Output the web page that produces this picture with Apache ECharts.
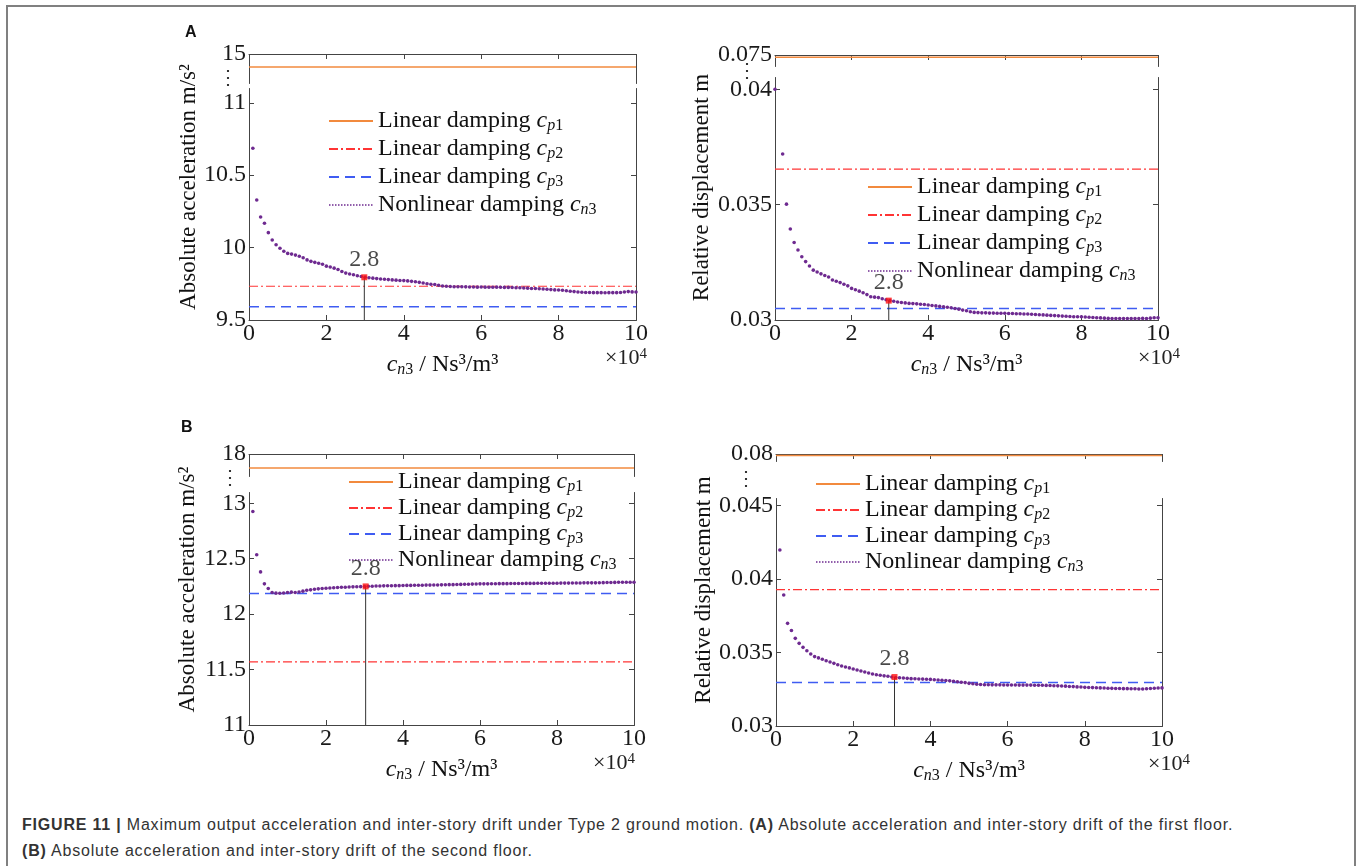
<!DOCTYPE html>
<html><head><meta charset="utf-8">
<script src="https://cdn.jsdelivr.net/npm/echarts@6.0.0/dist/echarts.min.js"></script>
<style>
html,body{margin:0;padding:0;background:#fff;width:1357px;height:866px;overflow:hidden}
#frame{position:absolute;left:6px;top:5px;width:1350px;height:900px;border:2px solid #808080;box-sizing:border-box}
#chart{position:absolute;left:0;top:0;width:1357px;height:800px}
.cap{position:absolute;left:22px;font-family:"Liberation Sans",Arial,sans-serif;font-size:16px;letter-spacing:0.8px;color:#333;white-space:nowrap}
</style></head><body>
<div id="frame"></div>
<div id="chart"></div>
<div class="cap" style="top:816px"><b>FIGURE 11 |</b> Maximum output acceleration and inter-story drift under Type 2 ground motion. <b>(A)</b> Absolute acceleration and inter-story drift of the first floor.</div>
<div class="cap" style="top:842px"><b>(B)</b> Absolute acceleration and inter-story drift of the second floor.</div>
<script>
// ---------- data ----------
const xTicks = [0, 2, 4, 6, 8, 10];
const xTickLabels = ['0', '2', '4', '6', '8', '10'];
const xPts = [0.1,0.2,0.3,0.4,0.5,0.6,0.7,0.8,0.9,1.0,1.1,1.2,1.3,1.4,1.5,1.6,1.7,1.8,1.9,2.0,2.1,2.2,2.3,2.4,2.5,2.6,2.7,2.8,2.9,3.0,3.1,3.2,3.3,3.4,3.5,3.6,3.7,3.8,3.9,4.0,4.1,4.2,4.3,4.4,4.5,4.6,4.7,4.8,4.9,5.0,5.1,5.2,5.3,5.4,5.5,5.6,5.7,5.8,5.9,6.0,6.1,6.2,6.3,6.4,6.5,6.6,6.7,6.8,6.9,7.0,7.1,7.2,7.3,7.4,7.5,7.6,7.7,7.8,7.9,8.0,8.1,8.2,8.3,8.4,8.5,8.6,8.7,8.8,8.9,9.0,9.1,9.2,9.3,9.4,9.5,9.6,9.7,9.8,9.9,10.0];
const xPtsA2 = [0.0,0.2,0.3,0.4,0.5,0.6,0.7,0.8,0.9,1.0,1.1,1.2,1.3,1.4,1.5,1.6,1.7,1.8,1.9,2.0,2.1,2.2,2.3,2.4,2.5,2.6,2.7,2.8,2.9,3.0,3.1,3.2,3.3,3.4,3.5,3.6,3.7,3.8,3.9,4.0,4.1,4.2,4.3,4.4,4.5,4.6,4.7,4.8,4.9,5.0,5.1,5.2,5.3,5.4,5.5,5.6,5.7,5.8,5.9,6.0,6.1,6.2,6.3,6.4,6.5,6.6,6.7,6.8,6.9,7.0,7.1,7.2,7.3,7.4,7.5,7.6,7.7,7.8,7.9,8.0,8.1,8.2,8.3,8.4,8.5,8.6,8.7,8.8,8.9,9.0,9.1,9.2,9.3,9.4,9.5,9.6,9.7,9.8,9.9,10.0];

// Panel A left: absolute acceleration, first floor (m/s^2)
const accA = [10.686,10.329,10.211,10.168,10.103,10.052,10.020,9.995,9.975,9.960,9.955,9.948,9.940,9.930,9.915,9.905,9.898,9.892,9.885,9.872,9.866,9.858,9.849,9.835,9.824,9.818,9.812,9.806,9.800,9.795,9.792,9.789,9.786,9.783,9.781,9.779,9.777,9.775,9.773,9.772,9.770,9.767,9.764,9.760,9.755,9.750,9.747,9.745,9.740,9.735,9.733,9.731,9.730,9.730,9.730,9.729,9.728,9.728,9.727,9.728,9.727,9.726,9.726,9.727,9.726,9.725,9.725,9.724,9.723,9.723,9.721,9.720,9.718,9.717,9.716,9.714,9.712,9.710,9.708,9.707,9.705,9.702,9.699,9.696,9.693,9.692,9.690,9.690,9.689,9.689,9.689,9.688,9.689,9.689,9.689,9.690,9.693,9.696,9.694,9.693];
// Panel A right: relative displacement, first floor (m)
const dispA = [0.04000,0.03719,0.03502,0.03394,0.03336,0.03303,0.03274,0.03253,0.03234,0.03216,0.03208,0.03200,0.03193,0.03186,0.03173,0.03168,0.03162,0.03155,0.03148,0.03137,0.03131,0.03125,0.03118,0.03110,0.03101,0.03099,0.03097,0.03092,0.03088,0.03084,0.03081,0.03078,0.03076,0.03074,0.03072,0.03071,0.03070,0.03068,0.03067,0.03065,0.03063,0.03061,0.03059,0.03057,0.03055,0.03053,0.03050,0.03047,0.03043,0.03040,0.03036,0.03033,0.03032,0.03031,0.03031,0.03030,0.03030,0.03029,0.03029,0.03029,0.03028,0.03028,0.03027,0.03027,0.03026,0.03026,0.03025,0.03024,0.03023,0.03022,0.03021,0.03020,0.03019,0.03018,0.03017,0.03016,0.03015,0.03014,0.03014,0.03014,0.03013,0.03012,0.03011,0.03010,0.03009,0.03008,0.03007,0.03006,0.03006,0.03006,0.03006,0.03006,0.03006,0.03006,0.03006,0.03007,0.03006,0.03008,0.03010,0.03010];
// Panel B left: absolute acceleration, second floor (m/s^2)
const accB = [12.925,12.535,12.381,12.273,12.231,12.195,12.189,12.188,12.191,12.195,12.198,12.195,12.200,12.207,12.215,12.219,12.224,12.228,12.231,12.234,12.236,12.238,12.240,12.242,12.243,12.245,12.246,12.247,12.248,12.249,12.251,12.252,12.253,12.254,12.255,12.256,12.256,12.257,12.257,12.258,12.259,12.259,12.260,12.261,12.261,12.262,12.262,12.263,12.263,12.264,12.265,12.266,12.266,12.267,12.268,12.269,12.270,12.271,12.272,12.273,12.273,12.273,12.274,12.274,12.275,12.275,12.275,12.276,12.276,12.276,12.276,12.277,12.277,12.277,12.278,12.278,12.278,12.279,12.279,12.279,12.280,12.280,12.280,12.281,12.281,12.281,12.282,12.282,12.282,12.282,12.283,12.284,12.285,12.285,12.286,12.287,12.287,12.288,12.288,12.288];
// Panel B right: relative displacement, second floor (m)
const dispB = [0.04197,0.03891,0.03698,0.03649,0.03596,0.03562,0.03535,0.03512,0.03490,0.03472,0.03463,0.03454,0.03444,0.03435,0.03426,0.03417,0.03408,0.03401,0.03395,0.03388,0.03381,0.03374,0.03367,0.03360,0.03354,0.03349,0.03345,0.03341,0.03338,0.03333,0.03330,0.03328,0.03326,0.03324,0.03322,0.03321,0.03320,0.03319,0.03318,0.03317,0.03315,0.03313,0.03311,0.03309,0.03307,0.03304,0.03301,0.03298,0.03295,0.03290,0.03287,0.03284,0.03282,0.03281,0.03281,0.03280,0.03280,0.03280,0.03279,0.03279,0.03279,0.03279,0.03278,0.03278,0.03278,0.03278,0.03277,0.03277,0.03277,0.03276,0.03275,0.03274,0.03273,0.03272,0.03271,0.03269,0.03268,0.03266,0.03265,0.03263,0.03262,0.03261,0.03260,0.03259,0.03258,0.03257,0.03256,0.03255,0.03255,0.03254,0.03254,0.03253,0.03253,0.03252,0.03252,0.03253,0.03255,0.03257,0.03258,0.03259];

// Linear damping reference levels [cp1, cp2, cp3] per panel
const refA1 = [14.91, 9.733, 9.592];
const refA2 = [0.0749, 0.03654, 0.0305];
const refB1 = [17.874, 11.569, 12.186];
const refB2 = [0.0799, 0.03927, 0.03295];

// Highlighted point
const markX = [2.98, 2.97, 3.03, 3.07];
const markY = [9.795, 0.03084, 12.25, 0.03333];
const markLabel = '2.8';

// Y axes (broken)
const yMin = [9.5, 0.03, 11, 0.03];
const yMax = [15, 0.075, 18, 0.08];
const yTicks = [[9.5, 10, 10.5, 11, 15], [0.03, 0.035, 0.04, 0.075], [11, 11.5, 12, 12.5, 13, 18], [0.03, 0.035, 0.04, 0.045, 0.08]];
const yTickLabels = [['9.5', '10', '10.5', '11', '15'], ['0.03', '0.035', '0.04', '0.075'], ['11', '11.5', '12', '12.5', '13', '18'], ['0.03', '0.035', '0.04', '0.045', '0.08']];
const breakStart = [11.1, 0.0405, 13.1, 0.0455];
const breakEnd = [14.8, 0.0745, 17.8, 0.0795];
const yNames = ['Absolute acceleration m/s²', 'Relative displacement m', 'Absolute acceleration m/s²', 'Relative displacement m'];

const legendNames = ['Linear damping cp1', 'Linear damping cp2', 'Linear damping cp3', 'Nonlinear damping cn3'];
const legendRich = {
  'Linear damping cp1': 'Linear damping {c|c}{si|p}{s|1}',
  'Linear damping cp2': 'Linear damping {c|c}{si|p}{s|2}',
  'Linear damping cp3': 'Linear damping {c|c}{si|p}{s|3}',
  'Nonlinear damping cn3': 'Nonlinear damping {c|c}{si|n}{s|3}'
};

// ---------- layout / style ----------
const serif = 'Liberation Serif';
const grids = [
  {left: 249, top: 54, width: 387, height: 266},
  {left: 775, top: 55, width: 383, height: 265},
  {left: 249, top: 454, width: 385, height: 271},
  {left: 776, top: 454, width: 386, height: 272}
];
const gaps = ['2%', '4.2%', '5.9%', '13.5%'];
const yNameGap = [44, 62, 50, 61];
const legendPos = [{left: 328, top: 108, gap: 2}, {left: 867, top: 174, gap: 2}, {left: 348, top: 469, gap: 0}, {left: 815, top: 471, gap: 0}];
const C_OR = '#F28A3E', C_RED = '#FF3434', C_BLUE = '#3F5CF2', C_PUR = '#6E2A90', C_AX = '#444';

const panelX = [xPts, xPtsA2, xPts, xPts];
const panelY = [accA, dispA, accB, dispB];
const panelRef = [refA1, refA2, refB1, refB2];

const richSub = {
  c: {fontFamily: serif, fontStyle: 'italic', fontSize: 24, lineHeight: 26, color: '#111'},
  si: {fontFamily: serif, fontStyle: 'italic', fontSize: 16, lineHeight: 11, verticalAlign: 'bottom', color: '#111'},
  s: {fontFamily: serif, fontSize: 16, lineHeight: 11, verticalAlign: 'bottom', color: '#111'},
  t: {fontFamily: serif, fontSize: 24, lineHeight: 26, color: '#111'}
};
const richTick = {v: {fontFamily: serif, fontSize: 24, lineHeight: 26, color: '#1a1a1a'}};

function labelFor(i, v) {
  const k = yTicks[i].findIndex(t => Math.abs(t - v) < 1e-9);
  return k >= 0 ? '{v|' + yTickLabels[i][k] + '}' : '';
}

const xAxes = [], yAxes = [], series = [], legends = [];
grids.forEach((g, i) => {
  ['bottom', 'top'].forEach(pos => {
    xAxes.push({
      type: 'value', gridIndex: i, position: pos, min: 0, max: 10, interval: 2,
      axisLine: {show: true, onZero: false, lineStyle: {color: C_AX, width: 1}},
      axisTick: {show: true, inside: true, length: 5, lineStyle: {color: C_AX}},
      axisLabel: {show: pos === 'bottom', margin: 1, fontFamily: serif, fontSize: 24, color: '#1a1a1a', rich: richTick,
        formatter: v => { const k = xTicks.indexOf(v); return k >= 0 ? '{v|' + xTickLabels[k] + '}' : ''; }},
      splitLine: {show: false},
      name: pos === 'bottom' ? '{c|c}{si|n}{s|3}{t| / Ns³/m³}' : '',
      nameLocation: 'middle', nameGap: 32,
      nameTextStyle: {fontFamily: serif, fontSize: 24, color: '#111', rich: richSub}
    });
  });
  ['left', 'right'].forEach(pos => {
    yAxes.push({
      type: 'value', gridIndex: i, position: pos, min: yMin[i], max: yMax[i],
      breaks: [{start: breakStart[i], end: breakEnd[i], gap: gaps[i]}],
      breakArea: {show: false},
      axisLine: {show: true, onZero: false, lineStyle: {color: C_AX, width: 1}},
      axisTick: {show: true, inside: true, length: 5, customValues: yTicks[i], lineStyle: {color: C_AX}},
      axisLabel: {show: pos === 'left', customValues: yTicks[i], margin: 3, fontFamily: serif, fontSize: 24, color: '#1a1a1a', rich: richTick,
        formatter: v => labelFor(i, v)},
      splitLine: {show: false},
      name: pos === 'left' ? yNames[i] : '',
      nameLocation: 'middle', nameGap: yNameGap[i],
      nameTextStyle: {fontFamily: serif, fontSize: 23, color: '#111'}
    });
  });
  const xi = 2 * i, yi = 2 * i;
  const ref = panelRef[i];
  series.push({type: 'line', name: legendNames[0], xAxisIndex: xi, yAxisIndex: yi, symbol: 'none', z: 3,
    lineStyle: {color: C_OR, width: 1.6}, itemStyle: {color: C_OR}, data: [[0, ref[0]], [10, ref[0]]]});
  series.push({type: 'line', name: legendNames[1], xAxisIndex: xi, yAxisIndex: yi, symbol: 'none', z: 3,
    lineStyle: {color: C_RED, width: 1.2, type: [9, 3, 2, 3]}, itemStyle: {color: C_RED}, data: [[0, ref[1]], [10, ref[1]]]});
  series.push({type: 'line', name: legendNames[2], xAxisIndex: xi, yAxisIndex: yi, symbol: 'none', z: 3,
    lineStyle: {color: C_BLUE, width: 1.5, type: [10, 6]}, itemStyle: {color: C_BLUE}, data: [[0, ref[2]], [10, ref[2]]]});
  series.push({type: 'line', name: legendNames[3], xAxisIndex: xi, yAxisIndex: yi, symbol: 'circle', symbolSize: 3.6, z: 4,
    lineStyle: {color: C_PUR, width: 1, type: 'dotted', opacity: 0}, itemStyle: {color: C_PUR},
    data: panelX[i].map((x, k) => [x, panelY[i][k]])});
  series.push({type: 'line', name: 'mark-line', xAxisIndex: xi, yAxisIndex: yi, symbol: 'none', z: 5, silent: true,
    lineStyle: {color: '#333', width: 1}, data: [[markX[i], yMin[i]], [markX[i], markY[i]]]});
  series.push({type: 'scatter', name: 'mark-point', xAxisIndex: xi, yAxisIndex: yi, symbol: 'rect', symbolSize: 6, z: 6,
    itemStyle: {color: '#FF1010'},
    label: {show: true, position: 'top', distance: 2, formatter: '{v|' + markLabel + '}', rich: richTick,
      fontFamily: serif, fontSize: 24, color: '#1a1a1a'},
    data: [[markX[i], markY[i]]]});
  const lp = legendPos[i];
  legends.push({
    data: [legendNames[0], legendNames[1], legendNames[2],
      {name: legendNames[3], lineStyle: {opacity: 1, width: 1.3, type: [1.5, 1.5], color: C_PUR}}],
    orient: 'vertical', left: lp.left, top: lp.top, itemGap: lp.gap,
    itemWidth: 44, itemHeight: 14, padding: 0, selectedMode: false,
    itemStyle: {opacity: 0},
    formatter: n => legendRich[n],
    textStyle: {fontFamily: serif, fontSize: 24, color: '#111', lineHeight: 26, rich: richSub}
  });
});

const chart = echarts.init(document.getElementById('chart'), null, {renderer: 'canvas'});
chart.setOption({
  animation: false,
  backgroundColor: 'transparent',
  textStyle: {fontFamily: serif},
  grid: grids.map(g => Object.assign({containLabel: false}, g)),
  xAxis: xAxes, yAxis: yAxes, legend: legends, series: series
});

// Extra text: panel letters, break ellipses, x-axis multipliers
const dotsDx = [21, 28, 19, 30];
const multDx = [-31, -20, -41, -14];
const graphics = [
  {type: 'text', left: 185, top: 25, style: {text: 'A', font: 'bold 16px Liberation Sans', fill: '#111'}},
  {type: 'text', left: 181, top: 420, style: {text: 'B', font: 'bold 16px Liberation Sans', fill: '#111'}}
];
grids.forEach((g, i) => {
  const t = yTicks[i];
  const yTop = chart.convertToPixel({yAxisIndex: 2 * i}, t[t.length - 1]);
  const yLow = chart.convertToPixel({yAxisIndex: 2 * i}, t[t.length - 2]);
  graphics.push({type: 'text', x: g.left - dotsDx[i], y: (yTop + yLow) / 2,
    style: {text: '⋮', font: '20px Liberation Serif', fill: '#333', align: 'center', verticalAlign: 'middle'}});
  const p = chart.convertToPixel({gridIndex: i}, [10, yMin[i]]);
  graphics.push({type: 'text', x: p[0] + multDx[i], y: p[1] + 27,
    style: {text: '×10{s|4}', font: '22px Liberation Serif', fill: '#222', align: 'left', verticalAlign: 'top',
      rich: {s: {fontFamily: serif, fontSize: 15, verticalAlign: 'top', lineHeight: 14, fill: '#222'}}}});
});
chart.setOption({graphic: graphics});
</script>
</body></html>
